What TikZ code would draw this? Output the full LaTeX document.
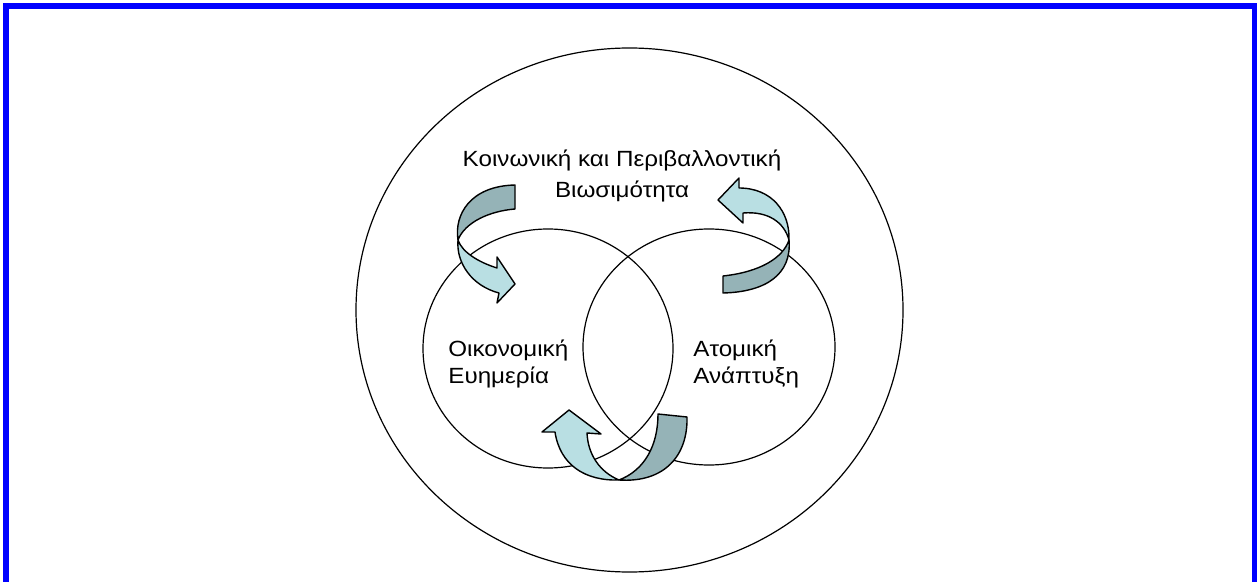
\documentclass[tikz,border=0pt]{standalone}
\usepackage{fontspec}
\setmainfont{Liberation Sans}[FakeStretch=1.1]
\usepackage{tikz}
\usetikzlibrary{shapes.geometric}
\definecolor{cA}{HTML}{0000FF}
\definecolor{cB}{HTML}{95B3B7}
\definecolor{cC}{HTML}{B9DFE3}
\tikzset{
  ring/.style={ellipse,draw=black,line width=0.6pt,inner sep=0pt},
  lbl/.style={inner sep=0pt,align=left,anchor=west},
  backband/.style={fill=cB,draw=black,line width=0.7pt,line join=round},
  frontband/.style={fill=cC,draw=black,line width=0.7pt,line join=round},
}

\begin{document}
\begin{tikzpicture}[x=0.5pt,y=-0.5pt,every node/.style={font=\fontsize{11}{13.6}\selectfont}]
  \useasboundingbox (0,0) rectangle (1257,582);
  \clip (0,0) rectangle (1257,582);
  \draw[cA,line width=3pt] (6,6) rectangle (1255,640);

  \node[ring,minimum width=273.5pt,minimum height=262pt] (whole) at (629.5,310) {};
  \node[ring,minimum width=125pt,minimum height=119.5pt] (econ) at (548,348.5) {};
  \node[ring,minimum width=126pt,minimum height=118pt] (person) at (709,347) {};

  \node[inner sep=0pt,align=center] (soc) at (622,176) {Κοινωνική και Περιβαλλοντική\\[2pt]Βιωσιμότητα};
  \node[lbl] (econtxt) at (448,364) {Οικονομική\\Ευημερία};
  \node[lbl] (perstxt) at (693,364) {Ατομική\\Ανάπτυξη};

  \draw[backband] (515,185) -- (515,209) .. controls (490,211) and (465,222) .. (458,240)
    .. controls (454,215) and (470,186) .. (515,185) -- cycle;
  \draw[frontband] (458,240) .. controls (456,263) and (472,286) .. (499,293) -- (497,303)
    -- (515,284) -- (497,257) -- (497,268) .. controls (478,262) and (462,252) .. (458,240) -- cycle;

  \draw[backband] (789,240) .. controls (792,275) and (765,292) .. (723,293) -- (723,276)
    .. controls (760,272) and (783,258) .. (789,240) -- cycle;
  \draw[frontband] (718,200) -- (739,178) -- (739,188) .. controls (772,188) and (790,212) .. (789,240)
    .. controls (784,222) and (768,211) .. (743,213) -- (743,223) -- cycle;

  \draw[backband] (658,414) -- (687,417) .. controls (688,455) and (665,483) .. (619,480)
    .. controls (645,470) and (658,445) .. (658,414) -- cycle;
  \draw[frontband] (569,410) -- (601,434) -- (587,433) .. controls (588,455) and (600,472) .. (619,480)
    .. controls (585,481) and (560,465) .. (555,432) -- (542,432) -- cycle;
\end{tikzpicture}
\end{document}
